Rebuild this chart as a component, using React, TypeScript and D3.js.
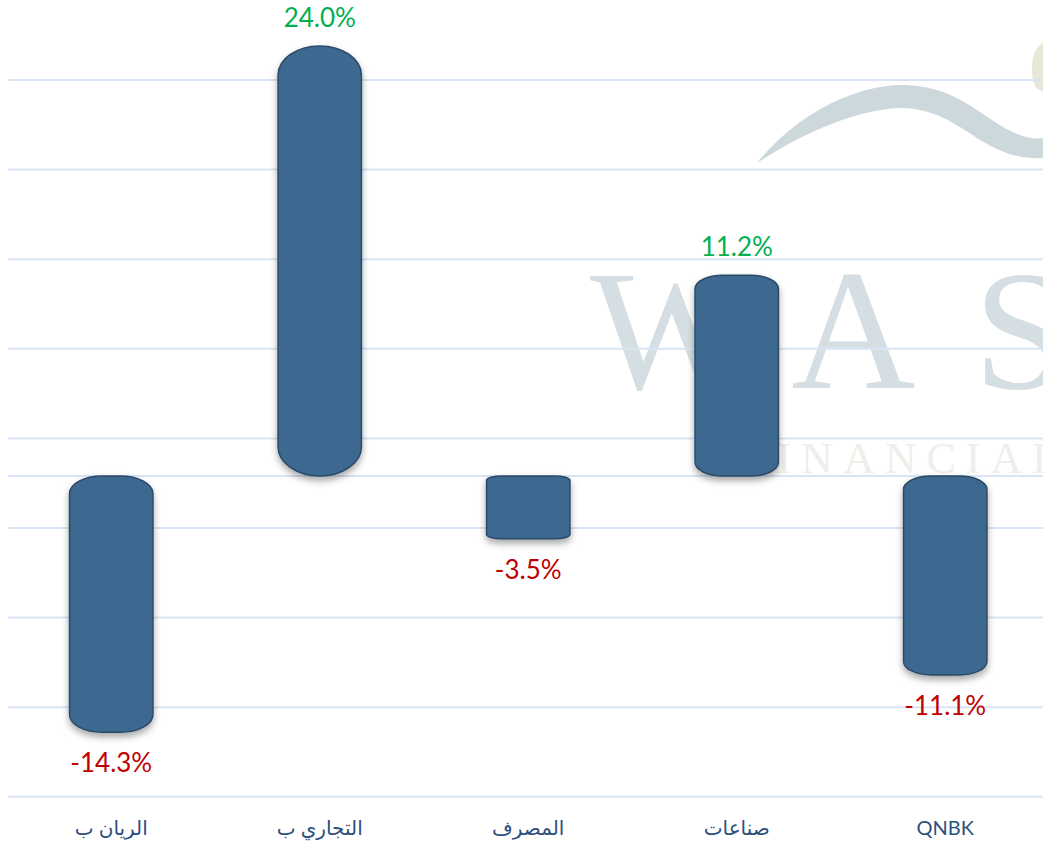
import React from "react";
import * as d3 from "d3";

const categories = ["الريان ب", "التجاري ب", "المصرف", "صناعات", "QNBK"];
const values = [-14.3, 24.0, -3.5, 11.2, -11.1];
const gridValues = [25, 20, 15, 10, 5, 0, -5, -10, -15];

const W = 1043;
const H = 842;
const DEPTH = 52; // back-wall offset of gridlines (3D chart)

const x = d3
  .scaleBand<string>()
  .domain(categories)
  .range([7, 1049.5])
  .paddingInner(0.6)
  .paddingOuter(0.3);

const y = d3.scaleLinear().domain([-20, 25]).range([834.4, 28]);

function barPath(x0: number, x1: number, yTop: number, yBot: number) {
  const w = x1 - x0;
  const h = yBot - yTop;
  const ry = Math.min(h / 2, 0.068 * h);
  const rx = Math.min(w / 2, 10 + ry * 1.3);
  return [
    `M${x0},${yTop + ry}`,
    `A${rx},${ry} 0 0 1 ${x0 + rx},${yTop}`,
    `L${x1 - rx},${yTop}`,
    `A${rx},${ry} 0 0 1 ${x1},${yTop + ry}`,
    `L${x1},${yBot - ry}`,
    `A${rx},${ry} 0 0 1 ${x1 - rx},${yBot}`,
    `L${x0 + rx},${yBot}`,
    `A${rx},${ry} 0 0 1 ${x0},${yBot - ry}`,
    "Z",
  ].join(" ");
}

export default function App() {
  const bw = x.bandwidth();
  return (
    <svg
      width={W}
      height={H}
      style={{ position: "absolute", left: 0, top: 0, display: "block", background: "#fff" }}
    >
      <defs>
        <filter id="shadow" x="-30%" y="-10%" width="160%" height="130%">
          <feDropShadow dx="0" dy="4" stdDeviation="3.5" floodColor="#000" floodOpacity="0.35" />
        </filter>
      </defs>

      {/* watermark */}
      <g>
        <path
          d="M757,163 C800,110 860,84 905,85 C945,86 968,104 992,120 C1012,134 1030,140 1043,138 L1043,158 C1020,160 998,152 974,136 C950,120 930,108 900,108 C855,110 805,132 757,163 Z"
          fill="#cdd8dd"
        />
        <path d="M1043,42 C1032,50 1028,70 1036,88 L1043,92 Z" fill="#e9e8d8" />
        <text
          x={590}
          y={388}
          fontFamily="Liberation Serif, DejaVu Serif, serif"
          fontSize={172}
          fill="#d5dfe3"
          letterSpacing={58}
        >
          WAS
        </text>
        <text
          x={742}
          y={473}
          fontFamily="Liberation Serif, DejaVu Serif, serif"
          fontSize={44}
          fill="#eeefea"
          letterSpacing={10}
        >
          FINANCIAL
        </text>
      </g>

      {/* gridlines */}
      {gridValues.map((v) => (
        <line
          key={v}
          x1={8}
          x2={W}
          y1={y(v) + DEPTH}
          y2={y(v) + DEPTH}
          stroke="#d9e5f5"
          strokeWidth={2}
        />
      ))}
      <line x1={8} x2={W} y1={y(0)} y2={y(0)} stroke="#d9e5f5" strokeWidth={2} />

      {/* bars */}
      {categories.map((c, i) => {
        const v = values[i];
        const x0 = x(c)!;
        const yTop = Math.min(y(v), y(0));
        const yBot = Math.max(y(v), y(0));
        return (
          <path
            key={c}
            d={barPath(x0, x0 + bw, yTop, yBot)}
            fill="#3d6890"
            stroke="#2b4a69"
            strokeWidth={1.5}
            filter="url(#shadow)"
          />
        );
      })}

      {/* value labels */}
      {categories.map((c, i) => {
        const v = values[i];
        const cx = x(c)! + bw / 2;
        const pos = v >= 0;
        return (
          <text
            key={c}
            x={cx}
            y={pos ? y(v) - 19 : y(v) + 40}
            textAnchor="middle"
            fontFamily="Lato, 'Open Sans', sans-serif"
            fontSize={26}
            fill={pos ? "#00b050" : "#c00000"}
          >
            {v.toFixed(1) + "%"}
          </text>
        );
      })}

      {/* category labels */}
      {categories.map((c) => (
        <text
          key={c}
          x={x(c)! + bw / 2}
          y={835}
          textAnchor="middle"
          fontFamily="Lato, 'DejaVu Sans', sans-serif"
          fontSize={20}
          fill="#2d4f7c"
        >
          {c}
        </text>
      ))}
    </svg>
  );
}
